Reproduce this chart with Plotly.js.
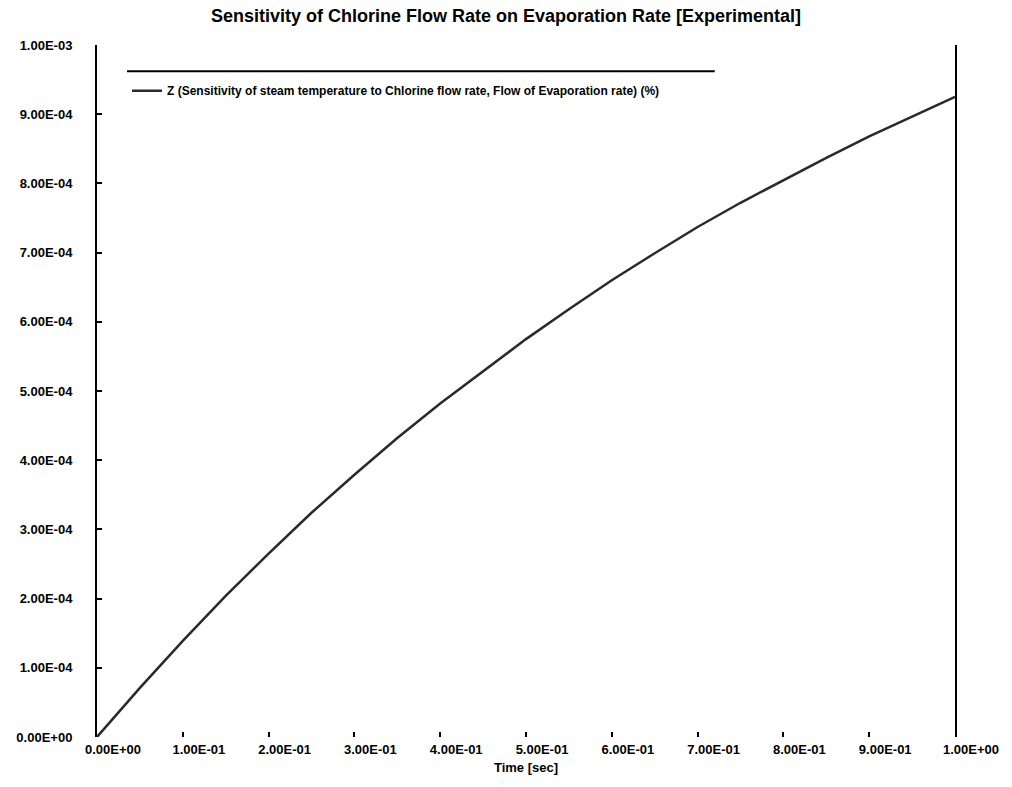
<!DOCTYPE html>
<html>
<head>
<meta charset="utf-8">
<script src="https://cdn.plot.ly/plotly-3.0.1.min.js"></script>
<style>html,body{margin:0;padding:0;background:#fff;}#chart{width:1012px;height:787px;}</style>
</head>
<body>
<div id="chart"></div>
<script>
const timeValues = [0, 0.05, 0.1, 0.15, 0.2, 0.25, 0.3, 0.35, 0.4, 0.45, 0.5, 0.55, 0.6, 0.65, 0.7, 0.75, 0.8, 0.85, 0.9, 0.95, 1.0];
const sensitivityValues = [0, 0.71, 1.39, 2.04, 2.65, 3.24, 3.79, 4.32, 4.82, 5.29, 5.75, 6.18, 6.60, 6.99, 7.37, 7.72, 8.05, 8.37, 8.68, 8.97, 9.25];
const xTickVals = [0, 0.1, 0.2, 0.3, 0.4, 0.5, 0.6, 0.7, 0.8, 0.9, 1.0];
const xTickText = ["0.00E+00", "1.00E-01", "2.00E-01", "3.00E-01", "4.00E-01", "5.00E-01", "6.00E-01", "7.00E-01", "8.00E-01", "9.00E-01", "1.00E+00"];
const yTickVals = [0, 1, 2, 3, 4, 5, 6, 7, 8, 9, 10];
const yTickText = ["0.00E+00", "1.00E-04", "2.00E-04", "3.00E-04", "4.00E-04", "5.00E-04", "6.00E-04", "7.00E-04", "8.00E-04", "9.00E-04", "1.00E-03"];
const seriesName = "Z (Sensitivity of steam temperature to Chlorine flow rate, Flow of Evaporation rate) (%)";
const chartTitle = "Sensitivity of Chlorine Flow Rate on Evaporation Rate [Experimental]";
const xTitle = "Time [sec]";

const trace = {
  x: timeValues,
  y: sensitivityValues,
  type: 'scatter',
  mode: 'lines',
  name: seriesName,
  line: {color: '#2a2a2a', width: 2.5}
};

const layout = {
  width: 1012,
  height: 787,
  paper_bgcolor: '#fff',
  plot_bgcolor: '#fff',
  font: {family: 'Liberation Sans, Arial, sans-serif', size: 13, color: '#000', weight: 'bold'},
  margin: {l: 97, r: 57, t: 45, b: 50},
  title: {text: chartTitle, x: 0.5, xanchor: 'center', y: 0.988, yanchor: 'top', font: {size: 18, color: '#000', weight: 'bold'}},
  showlegend: true,
  legend: {x: 0.035, y: 0.955, xanchor: 'left', yanchor: 'top', bgcolor: 'rgba(0,0,0,0)', borderwidth: 0, font: {size: 12, weight: 'bold'}},
  xaxis: {
    range: [0, 1],
    tickvals: xTickVals,
    ticktext: xTickText,
    ticks: 'inside',
    ticklen: 5,
    tickwidth: 2,
    tickcolor: '#000',
    ticklabelstandoff: 3,
    ticklabelshift: 16,
    tickfont: {size: 13, weight: 'bold'},
    showgrid: false,
    zeroline: false,
    showline: false,
    title: {text: xTitle, standoff: 6, font: {size: 13, weight: 'bold'}}
  },
  yaxis: {
    range: [0, 10],
    tickvals: yTickVals,
    ticktext: yTickText,
    ticks: 'inside',
    ticklen: 5,
    tickwidth: 2,
    tickcolor: '#000',
    ticklabelstandoff: 20,
    tickfont: {size: 13, weight: 'bold'},
    showgrid: false,
    zeroline: false,
    showline: true,
    linecolor: '#000',
    linewidth: 2,
    mirror: true
  },
  shapes: [{
    type: 'line', xref: 'paper', yref: 'paper',
    x0: 0.035, x1: 0.72, y0: 0.962, y1: 0.962,
    line: {color: '#000', width: 2}
  }]
};

Plotly.newPlot('chart', [trace], layout, {displayModeBar: false, staticPlot: true});
</script>
</body>
</html>
